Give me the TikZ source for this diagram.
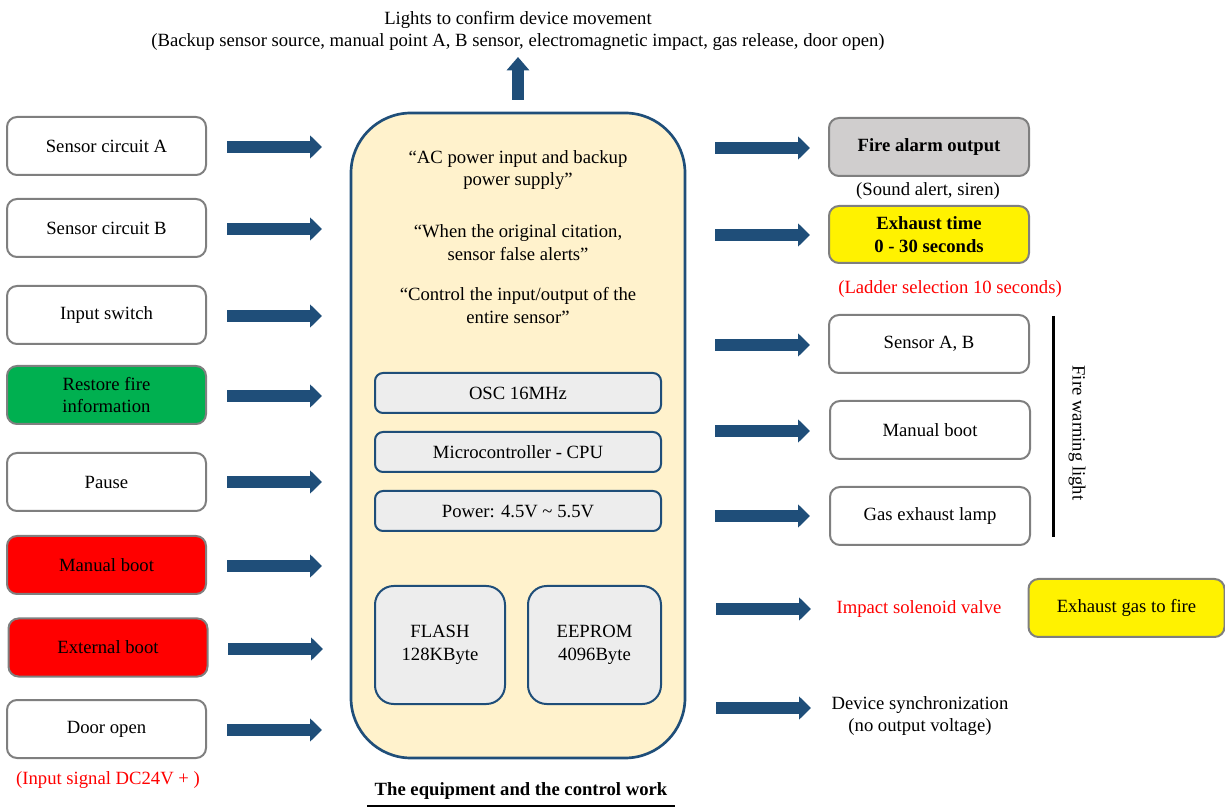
\documentclass[tikz,border=0pt]{standalone}
\usepackage{fontspec}
\setmainfont{Liberation Serif}
\usetikzlibrary{arrows.meta}
\definecolor{arrowblue}{RGB}{31,78,121}
\definecolor{boxgray}{RGB}{127,127,127}
\definecolor{mainfill}{RGB}{255,242,204}
\definecolor{innerfill}{RGB}{237,237,237}
\definecolor{alarmgray}{RGB}{208,206,206}
\definecolor{okgreen}{RGB}{0,176,80}
\tikzset{
  inbox/.style={draw=boxgray, line width=1.5pt, rounded corners=7.5pt, fill=white,
    minimum width=149.25pt, minimum height=43.5pt, inner sep=0pt, align=center},
  outbox/.style={inbox, minimum width=150pt},
  chip/.style={draw=arrowblue, line width=1.5pt, rounded corners=6pt, fill=innerfill,
    minimum width=214.5pt, minimum height=30pt, inner sep=0pt, align=center},
  memchip/.style={draw=arrowblue, line width=1.5pt, rounded corners=14pt, fill=innerfill,
    minimum height=88.5pt, inner sep=0pt, align=center},
  barrow/.style={line width=9pt, draw=arrowblue, -{Triangle[width=17pt,length=9pt]}},
  lbl/.style={inner sep=0pt, align=center},
}
\begin{document}
\begin{tikzpicture}[x=0.75pt,y=-0.75pt,font=\fontsize{14}{17}\selectfont]
\useasboundingbox (0,0) rectangle (1225,812);
% top label and arrow
\node[lbl] (top) at (518,31) {Lights to confirm device movement\\(Backup sensor source, manual point A, B sensor, electromagnetic impact, gas release, door open)};
% main box
\node[draw=arrowblue, line width=2pt, fill=mainfill, rounded corners=45pt,
  minimum width=250.5pt, minimum height=483.75pt, inner sep=0pt] (main) at (518,435.5) {};
\coordinate (upstart) at (518,100);
\draw[line width=9pt, draw=arrowblue, -{Triangle[width=16.5pt,length=10pt]}] (upstart) -- (518,57);
\node[lbl] (t1) at (518,170) {“AC power input and backup\\power supply”};
\node[lbl] (t2) at (518,242.5) {“When the original citation,\\sensor false alerts”};
\node[lbl] (t3) at (518,305.5) {“Control the input/output of the\\entire sensor”};
\node[chip] (osc) at (518,393) {OSC 16MHz};
\node[chip] (cpu) at (518,452) {Microcontroller - CPU};
\node[chip] (pwr) at (518,511) {Power: 4.5V \textasciitilde\ 5.5V};
\node[memchip, minimum width=97.5pt] (flash) at (440,645) {FLASH\\128KByte};
\node[memchip, minimum width=99.75pt] (eeprom) at (594.5,645) {EEPROM\\4096Byte};
\node[lbl, font=\fontsize{14}{17}\selectfont\bfseries] (cap) at (521,791) {The equipment and the control work};
\draw[line width=2pt] (367,806) -- (675,806);
% left inputs
\node[inbox] (sa) at (106.5,146) {Sensor circuit A};
\node[inbox] (sb) at (106.5,228) {Sensor circuit B};
\node[inbox] (isw) at (106.5,315) {Input switch};
\node[inbox, fill=okgreen] (rest) at (106.5,395) {Restore fire\\information};
\node[inbox] (pause) at (106.5,482) {Pause};
\node[inbox, fill=red] (man) at (106.5,565) {Manual boot};
\node[inbox, fill=red] (ext) at (108,647.5) {External boot};
\node[inbox] (door) at (106.5,729) {Door open};
\node[lbl, text=red] (insig) at (108,780) {(Input signal DC24V + )};
\foreach \y in {147,229,316,396,482,566,730} \draw[barrow] (227,\y) -- (322,\y);
\draw[barrow] (228,649) -- (323,649);
% right outputs
\node[outbox, fill=alarmgray, font=\fontsize{14}{17}\selectfont\bfseries] (fire) at (929,147) {Fire alarm output};
\node[lbl] (sound) at (928,191.5) {(Sound alert, siren)};
\node[outbox, fill=yellow, minimum height=42.75pt, font=\fontsize{14}{17}\selectfont\bfseries] (exh) at (929,234.5) {Exhaust time\\0 - 30 seconds};
\node[lbl, text=red] (ladder) at (950,289.5) {(Ladder selection 10 seconds)};
\node[outbox] (sab) at (929,344) {Sensor A, B};
\node[outbox] (mb) at (930,430) {Manual boot};
\node[outbox] (gas) at (930,516) {Gas exhaust lamp};
\draw[line width=2.25pt] (1053,316) -- (1053,537);
\node[lbl, rotate=-90] (fwl) at (1077,433) {Fire warning light};
\node[lbl, text=red] (imp) at (919,609.5) {Impact solenoid valve};
\node[outbox, fill=yellow, minimum width=147pt] (egf) at (1126.5,608) {Exhaust gas to fire};
\node[lbl] (sync) at (920,716) {Device synchronization\\(no output voltage)};
\foreach \y in {148,235,345,431,516} \draw[barrow] (715,\y) -- (810,\y);
\draw[barrow] (716,609) -- (811,609);
\draw[barrow] (716,708) -- (811,708);
\end{tikzpicture}
\end{document}
